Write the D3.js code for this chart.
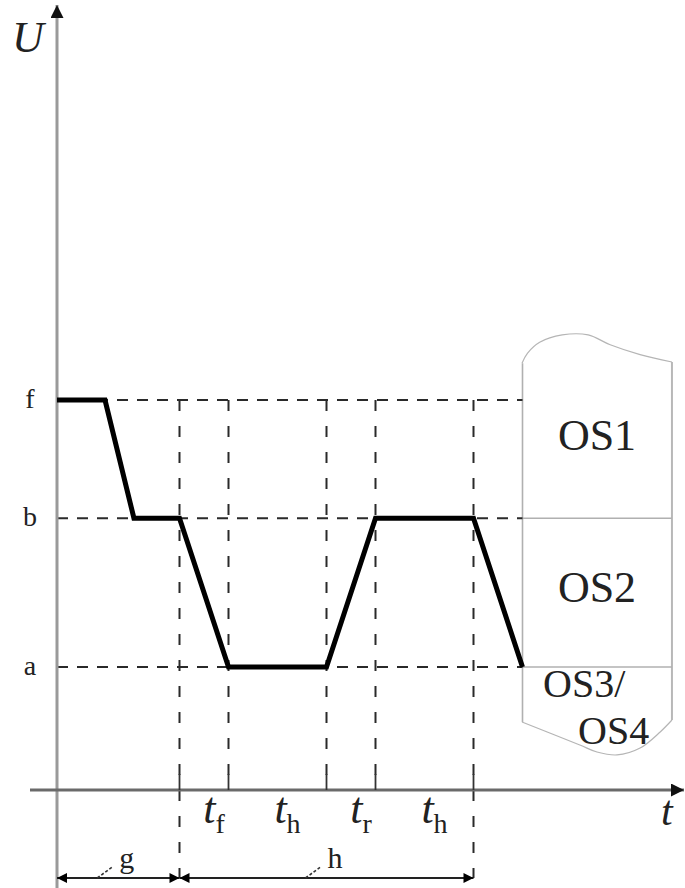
<!DOCTYPE html>
<html>
<head>
<meta charset="utf-8">
<script src="https://cdn.jsdelivr.net/npm/d3@7"></script>
<style>
  html, body { margin: 0; padding: 0; background: #fff; }
  svg { display: block; }
  text { font-family: "Liberation Serif", "DejaVu Serif", serif; fill: #222; }
</style>
</head>
<body>
<script>
// ---------- data ----------
const profileT = [0, 0.98, 1.57, 2.5, 3.5, 5.5, 6.5, 8.5, 9.5];
const profileU = [3.17, 3.17, 2.21, 2.21, 1, 1, 2.21, 2.21, 1];
const levelNames = ["a", "b", "f"];
const levelValues = [1, 2.21, 3.17];
const guideT = [2.5, 3.5, 5.5, 6.5, 8.5];
const intervalSubs = ["f", "h", "r", "h"];
const intervalStart = [2.5, 3.5, 5.5, 6.5];
const intervalEnd = [3.5, 5.5, 6.5, 8.5];
const dimNames = ["g", "h"];
const dimStart = [0, 2.5];
const dimEnd = [2.5, 8.5];
const boxT = [9.5, 12.55];
const boxTopT = [9.49, 9.6, 9.85, 10.31, 10.84, 11.29, 11.9, 12.55];
const boxTopU = [3.47, 3.55, 3.64, 3.70, 3.70, 3.62, 3.54, 3.48];
const boxBotT = [9.49, 10.67, 11.02, 11.43, 11.9, 12.31, 12.55];
const boxBotU = [0.553, 0.366, 0.309, 0.285, 0.341, 0.472, 0.569];
const regionLabels = ["OS1", "OS2", "OS3/", "OS4"];

// ---------- setup ----------
const W = 685, H = 888;
const svg = d3.select("body").append("svg").attr("width", W).attr("height", H);
const x = d3.scaleLinear().domain([0, 12.7]).range([57, 679.3]);
const y = d3.scaleLinear().domain([0, 6.38]).range([790, 5.3]);
const lvl = n => levelValues[levelNames.indexOf(n)];

const defs = svg.append("defs");
function marker(id, color, w, h) {
  defs.append("marker").attr("id", id).attr("viewBox", "0 0 10 10")
    .attr("refX", 10).attr("refY", 5).attr("markerWidth", w).attr("markerHeight", h)
    .attr("markerUnits", "userSpaceOnUse").attr("orient", "auto-start-reverse")
    .append("path").attr("d", "M0,0 L10,5 L0,10 Z").attr("fill", color);
}
marker("axArrow", "#111", 15, 13);
marker("dimArrow", "#000", 17, 10);

// ---------- box region (right) ----------
const boxG = svg.append("g");
const outline = d3.line().x(d => x(d[0])).y(d => y(d[1])).curve(d3.curveCatmullRom);
boxG.append("path").attr("d", outline(boxTopT.map((t, i) => [t, boxTopU[i]])))
  .attr("fill", "none").attr("stroke", "#b5b5b5").attr("stroke-width", 1.2);
boxG.append("path").attr("d", outline(boxBotT.map((t, i) => [t, boxBotU[i]])))
  .attr("fill", "none").attr("stroke", "#b5b5b5").attr("stroke-width", 1.2);
boxG.append("line").attr("x1", x(boxT[0])).attr("x2", x(boxT[0]))
  .attr("y1", y(boxTopU[0])).attr("y2", y(boxBotU[0]))
  .attr("stroke", "#b0b0b0").attr("stroke-width", 1.6);
boxG.append("line").attr("x1", x(boxT[1])).attr("x2", x(boxT[1]))
  .attr("y1", y(boxTopU[boxTopU.length - 1])).attr("y2", y(boxBotU[boxBotU.length - 1]))
  .attr("stroke", "#b8b8b8").attr("stroke-width", 2);
["b", "a"].forEach(n => {
  boxG.append("line").attr("x1", x(boxT[0])).attr("x2", x(boxT[1]))
    .attr("y1", y(lvl(n))).attr("y2", y(lvl(n)))
    .attr("stroke", "#b0b0b0").attr("stroke-width", 1.4);
});

// ---------- dashed guides ----------
const guideG = svg.append("g").attr("stroke", "#2a2a2a").attr("stroke-width", 2);
levelNames.forEach(n => {
  guideG.append("line").attr("x1", x(0)).attr("x2", x(boxT[0]))
    .attr("y1", y(lvl(n))).attr("y2", y(lvl(n)))
    .attr("stroke-dasharray", "11,9");
});
guideT.forEach(t => {
  const ext = (t === dimEnd[0] || t === dimEnd[1]);
  guideG.append("line").attr("x1", x(t)).attr("x2", x(t))
    .attr("y1", y(lvl("f"))).attr("y2", ext ? 878 : y(0))
    .attr("stroke-dasharray", "11,15");
});

// ---------- axes ----------
svg.append("line").attr("x1", x(0)).attr("x2", x(0)).attr("y1", 888).attr("y2", 5)
  .attr("stroke", "#9a9a9a").attr("stroke-width", 3).attr("marker-end", "url(#axArrow)");
svg.append("line").attr("x1", 30).attr("x2", 684).attr("y1", y(0)).attr("y2", y(0))
  .attr("stroke", "#6a6a6a").attr("stroke-width", 3).attr("marker-end", "url(#axArrow)");
// ticks on t axis
svg.append("g").selectAll("line").data(guideT).join("line")
  .attr("x1", d => x(d)).attr("x2", d => x(d)).attr("y1", y(0) - 16).attr("y2", y(0))
  .attr("stroke", "#333").attr("stroke-width", 1.8);

// axis labels
svg.append("text").attr("x", 12).attr("y", 52).attr("font-size", 44)
  .attr("font-style", "italic").text("U");
svg.append("text").attr("x", 661).attr("y", 825).attr("font-size", 42)
  .attr("font-style", "italic").text("t");

// level labels
svg.append("g").selectAll("text").data(levelNames).join("text")
  .attr("x", 30).attr("y", d => y(lvl(d)) + 8).attr("text-anchor", "middle")
  .attr("font-size", 28).text(d => d);

// ---------- profile ----------
const line = d3.line().x(d => x(d[0])).y(d => y(d[1]));
svg.append("path").attr("d", line(profileT.map((t, i) => [t, profileU[i]])))
  .attr("fill", "none").attr("stroke", "#000").attr("stroke-width", 5)
  .attr("stroke-linejoin", "miter");

// ---------- interval labels ----------
intervalSubs.forEach((s, i) => {
  const cx = (x(intervalStart[i]) + x(intervalEnd[i])) / 2 + 10;
  const tx = svg.append("text").attr("x", cx).attr("y", 823).attr("text-anchor", "middle");
  tx.append("tspan").attr("font-size", 44).attr("font-style", "italic").text("t");
  tx.append("tspan").attr("font-size", 28).attr("dy", 10).text(s);
});

// ---------- dimension arrows ----------
dimNames.forEach((n, i) => {
  const x1 = x(dimStart[i]), x2 = x(dimEnd[i]);
  svg.append("line").attr("x1", x1).attr("x2", x2).attr("y1", 878).attr("y2", 878)
    .attr("stroke", "#222").attr("stroke-width", 2)
    .attr("marker-start", "url(#dimArrow)").attr("marker-end", "url(#dimArrow)");
  const lx = (x1 + x2) / 2;
  svg.append("line").attr("x1", lx - 21).attr("y1", 878).attr("x2", lx - 6).attr("y2", 867)
    .attr("stroke", "#333").attr("stroke-width", 1.6).attr("stroke-dasharray", "3,2");
  svg.append("text").attr("x", lx + 1).attr("y", 868).attr("font-size", 30).text(n);
});

// ---------- region labels ----------
const rl = svg.append("g");
rl.append("text").attr("x", 597).attr("y", 450).attr("font-size", 44).attr("text-anchor", "middle").text(regionLabels[0]);
rl.append("text").attr("x", 597).attr("y", 602).attr("font-size", 44).attr("text-anchor", "middle").text(regionLabels[1]);
rl.append("text").attr("x", 543).attr("y", 697).attr("font-size", 40).text(regionLabels[2]);
rl.append("text").attr("x", 578).attr("y", 744).attr("font-size", 40).text(regionLabels[3]);
</script>
</body>
</html>
